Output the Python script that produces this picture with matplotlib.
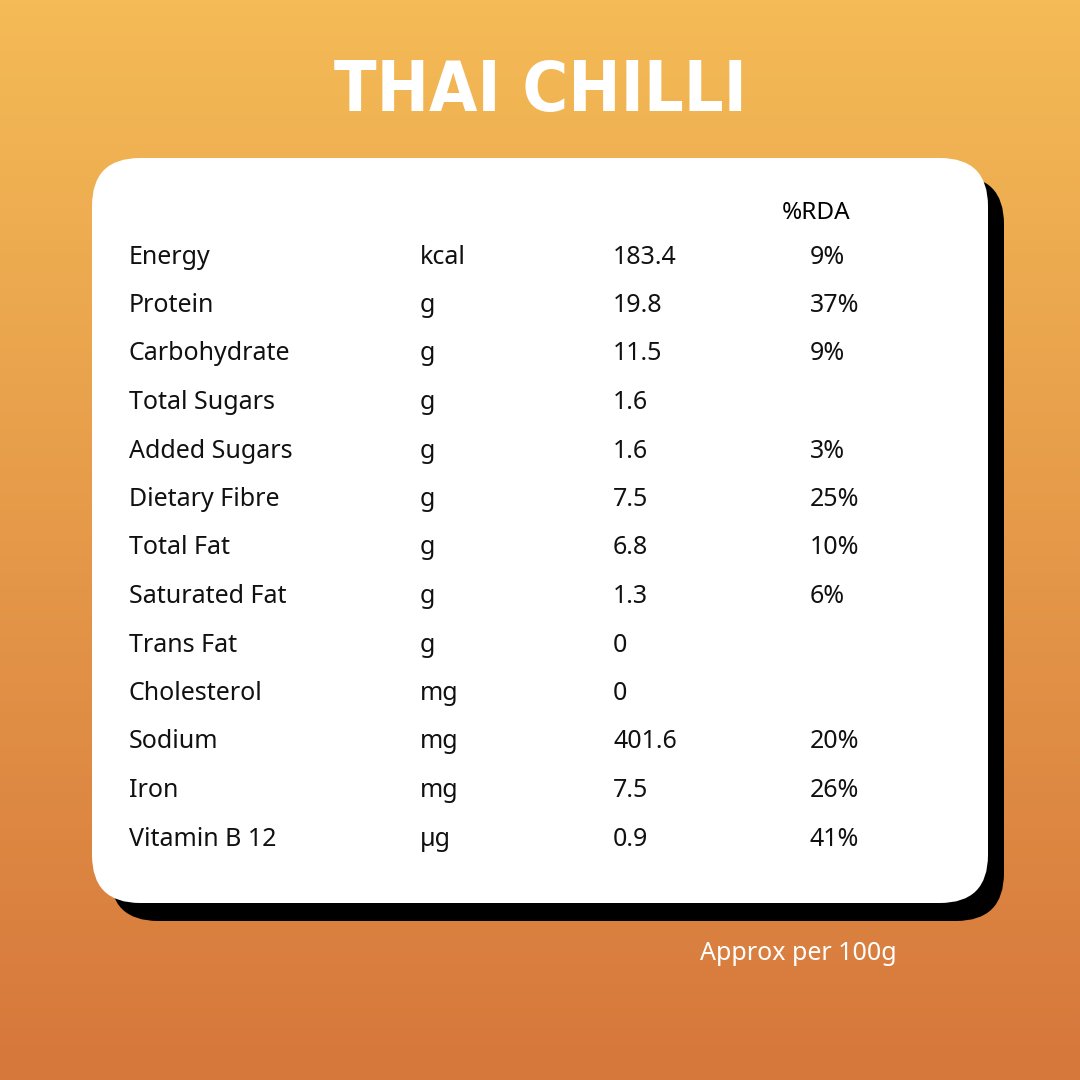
import numpy as np
import matplotlib.pyplot as plt
from matplotlib.patches import FancyBboxPatch

TITLE = 'THAI CHILLI'
NUTRIENTS = ['Energy', 'Protein', 'Carbohydrate', 'Total Sugars', 'Added Sugars',
             'Dietary Fibre', 'Total Fat', 'Saturated Fat', 'Trans Fat',
             'Cholesterol', 'Sodium', 'Iron', 'Vitamin B 12']
UNITS = ['kcal', 'g', 'g', 'g', 'g', 'g', 'g', 'g', 'g', 'mg', 'mg', 'mg', 'µg']
VALUES = ['183.4', '19.8', '11.5', '1.6', '1.6', '7.5', '6.8', '1.3', '0', '0',
          '401.6', '7.5', '0.9']
RDA = ['9%', '37%', '9%', '', '3%', '25%', '10%', '6%', '', '', '20%', '26%', '41%']
FOOTER = 'Approx per 100g'

fig = plt.figure(figsize=(10.8, 10.8), dpi=100)
ax = fig.add_axes([0, 0, 1, 1])
ax.set_xlim(0, 1080)
ax.set_ylim(1080, 0)
ax.axis('off')

# background gradient
top = np.array([0xF4, 0xBB, 0x56]) / 255
bot = np.array([0xD6, 0x77, 0x3C]) / 255
t = np.linspace(0, 1, 256)[:, None]
grad = (top * (1 - t) + bot * t)[:, None, :]
ax.imshow(grad, extent=[0, 1080, 1080, 0], aspect='auto', zorder=0)

# shadow + card
ax.add_patch(FancyBboxPatch((110, 176), 894, 745, boxstyle='round,pad=0,rounding_size=48',
                            fc='black', ec='none', zorder=1))
ax.add_patch(FancyBboxPatch((92, 158), 896, 745, boxstyle='round,pad=0,rounding_size=48',
                            fc='white', ec='none', zorder=2))

ax.text(540, 92, TITLE, ha='center', va='center', color='white', fontsize=50,
        fontfamily='DejaVu Sans', fontstretch='condensed', fontweight='heavy', zorder=3)
ax.text(782, 213, '%RDA', ha='left', va='center', fontsize=17.5,
        fontfamily='Noto Sans', fontweight='bold', zorder=3)

font = dict(fontsize=18, fontfamily='Noto Sans', fontweight='medium', va='center',
            color='#111111', zorder=3)
for i, (n, u, v, r) in enumerate(zip(NUTRIENTS, UNITS, VALUES, RDA)):
    y = 257 + i * 48.5
    ax.text(129, y, n, ha='left', **font)
    ax.text(420, y, u, ha='left', **font)
    ax.text(613, y, v, ha='left', **font)
    ax.text(810, y, r, ha='left', **font)

ax.text(700, 953, FOOTER, ha='left', va='center', color='white', fontsize=18,
        fontfamily='Noto Sans', fontweight='normal', zorder=3)

fig.savefig('out.png', dpi=100)
